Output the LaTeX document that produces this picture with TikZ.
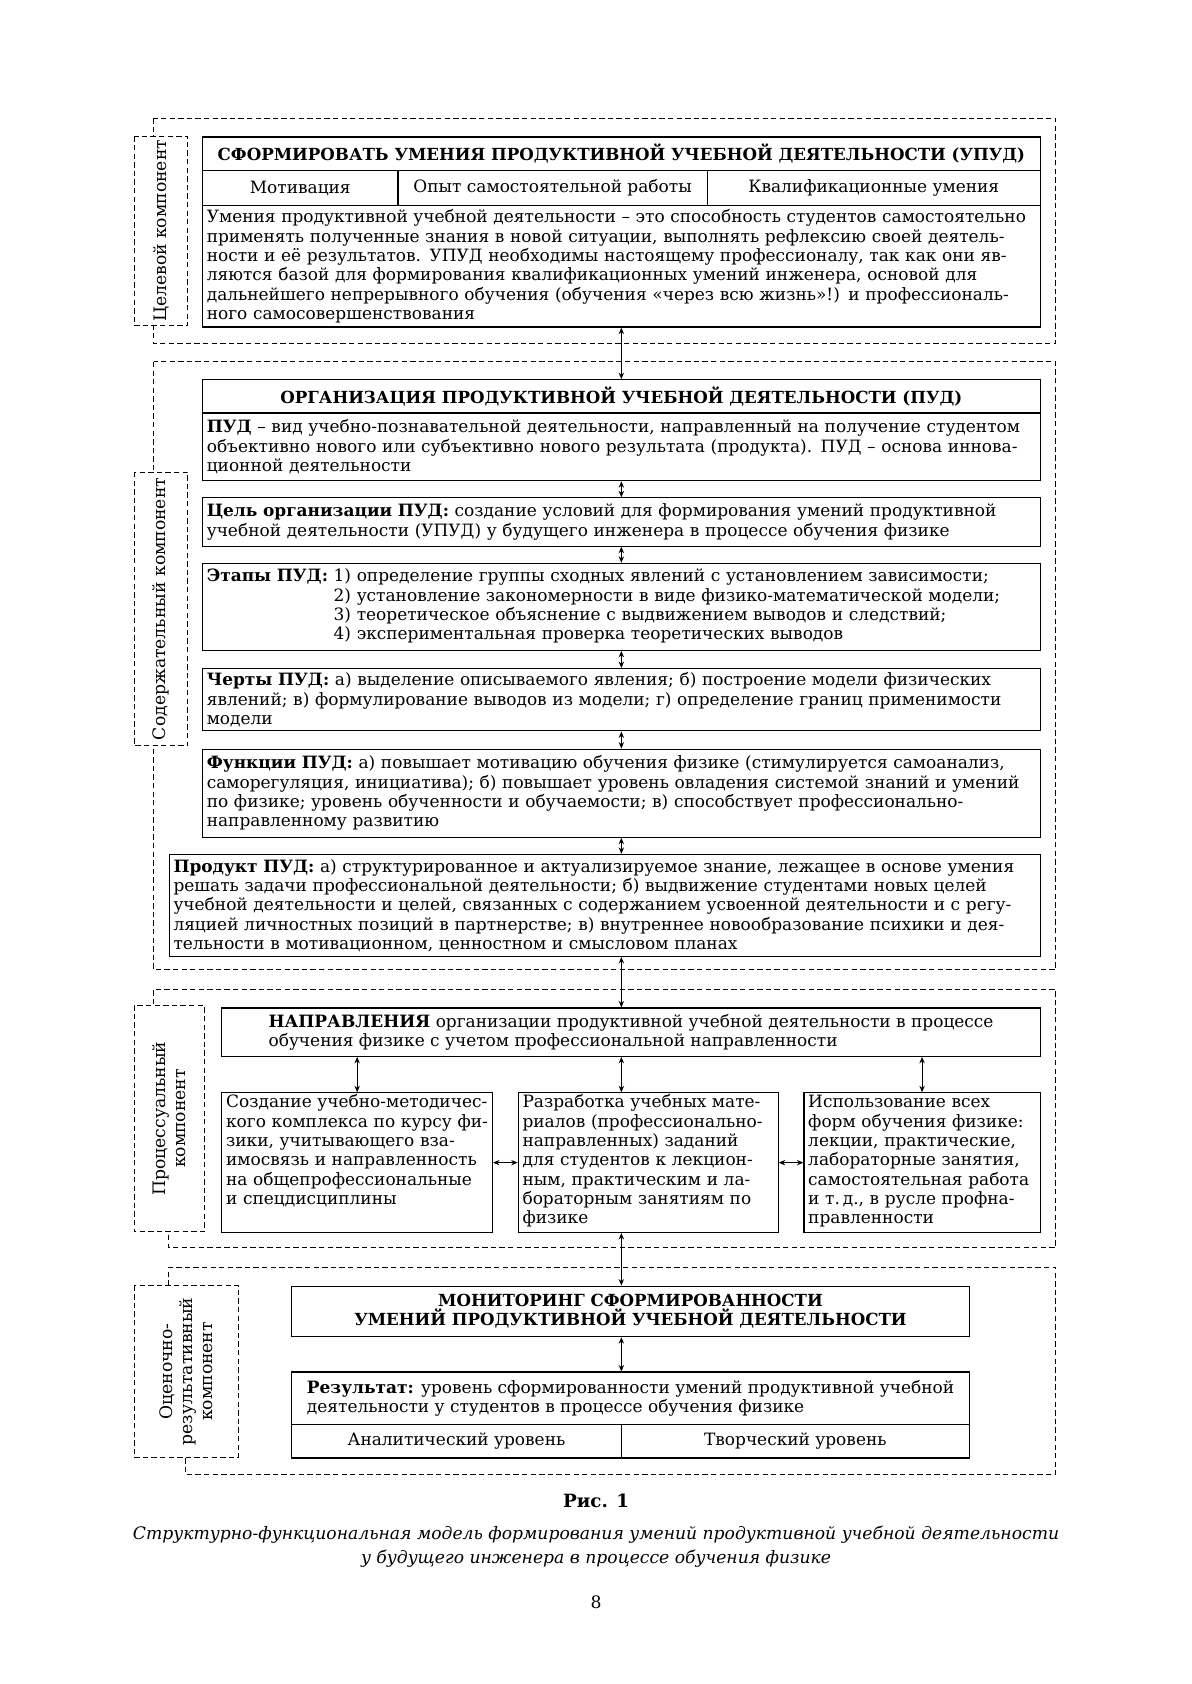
\documentclass[tikz,border=0pt]{standalone}
\usepackage{fontspec}
\setmainfont{DejaVu Serif}
\usetikzlibrary{arrows.meta, positioning, calc}

\newcommand{\bodyfont}{\fontsize{15.8}{18}\selectfont}
\newcommand{\headfont}{\fontsize{15.5}{18}\selectfont\bfseries}
\newcommand{\labfont}{\fontsize{16}{19}\selectfont}

\begin{document}
\begin{tikzpicture}[x=1pt, y=-1pt,
  box/.style   = {draw, line width=1.1pt, anchor=north west, inner xsep=4pt,
                  inner ysep=2pt, font=\bodyfont},
  head/.style  = {box, font=\headfont, align=center},
  cell/.style  = {box, align=center},
  txt/.style   = {box, align=left},
  lab/.style   = {draw, dash pattern=on 5pt off 3pt, line width=0.9pt,
                  fill=white, rotate=90, align=center, font=\labfont,
                  inner sep=0pt},
  frame/.style = {dash pattern=on 5pt off 3pt, line width=0.9pt},
  arr/.style   = {{Stealth[length=6pt,width=5pt]}-{Stealth[length=6pt,width=5pt]},
                  line width=0.9pt},
]
\useasboundingbox (0,0) rectangle (1109,1568);

\draw[frame] (143,110) rectangle (983,320);
\draw[frame] (143,337) rectangle (983,903);
\draw[frame] (157,1150) |- (983,1162) |- (143,921) -- (143,945);
\draw[frame] (173,1350) |- (983,1373) |- (157,1180) -- (157,1205);

% целевой компонент
\node[lab, minimum width=176pt, minimum height=50pt] (lab1) at (150,215)
     {Целевой компонент};
\node[head, minimum width=780pt, minimum height=31pt] (h1) at (188,127)
     {СФОРМИРОВАТЬ УМЕНИЯ ПРОДУКТИВНОЙ УЧЕБНОЙ ДЕЯТЕЛЬНОСТИ (УПУД)};
\node[cell, minimum width=182pt, minimum height=33pt] (r1a) at (188,158) {Мотивация};
\node[cell, minimum width=288pt, minimum height=33pt] (r1b) at (370,158)
     {Опыт самостоятельной работы};
\node[cell, minimum width=310pt, minimum height=33pt] (r1c) at (658,158)
     {Квалификационные умения};
\node[txt, text width=772pt, minimum height=113pt] (t1) at (188,191)
     {Умения продуктивной учебной деятельности – это способность студентов самостоятельно\\
      применять полученные знания в новой ситуации, выполнять рефлексию своей деятель-\\
      ности и её результатов. УПУД необходимы настоящему профессионалу, так как они яв-\\
      ляются базой для формирования квалификационных умений инженера, основой для\\
      дальнейшего непрерывного обучения (обучения «через всю жизнь»!) и профессиональ-\\
      ного самосовершенствования};

% содержательный компонент
\node[lab, minimum width=255pt, minimum height=50pt] (lab2) at (150,567)
     {Содержательный компонент};
\node[head, minimum width=780pt, minimum height=31pt] (h2) at (188,353)
     {ОРГАНИЗАЦИЯ ПРОДУКТИВНОЙ УЧЕБНОЙ ДЕЯТЕЛЬНОСТИ (ПУД)};
\node[txt, text width=772pt, minimum height=63pt] (t2) at (188,384)
     {\textbf{ПУД} – вид учебно-познавательной деятельности, направленный на получение студентом\\
      объективно нового или субъективно нового результата (продукта). ПУД – основа иннова-\\
      ционной деятельности};
\node[txt, text width=772pt, minimum height=45pt] (b2) at (188,463)
     {\textbf{Цель организации ПУД:} создание условий для формирования умений продуктивной\\
      учебной деятельности (УПУД) у будущего инженера в процессе обучения физике};
\node[txt, text width=772pt, minimum height=81pt] (b3) at (188,524)
     {\textbf{Этапы ПУД:} \begin{tabular}[t]{@{}l@{}}
      1) определение группы сходных явлений с установлением зависимости;\\
      2) установление закономерности в виде физико-математической модели;\\
      3) теоретическое объяснение с выдвижением выводов и следствий;\\
      4) экспериментальная проверка теоретических выводов\end{tabular}};
\node[txt, text width=772pt, minimum height=58pt] (b4) at (188,622)
     {\textbf{Черты ПУД:} а) выделение описываемого явления; б) построение модели физических\\
      явлений; в) формулирование выводов из модели; г) определение границ применимости\\
      модели};
\node[txt, text width=772pt, minimum height=82pt] (b5) at (188,697)
     {\textbf{Функции ПУД:} а) повышает мотивацию обучения физике (стимулируется самоанализ,\\
      саморегуляция, инициатива); б) повышает уровень овладения системой знаний и умений\\
      по физике; уровень обученности и обучаемости; в) способствует профессионально-\\
      направленному развитию};
\node[txt, text width=803pt, minimum height=95pt] (b6) at (157,795)
     {\textbf{Продукт ПУД:} а) структурированное и актуализируемое знание, лежащее в основе умения\\
      решать задачи профессиональной деятельности; б) выдвижение студентами новых целей\\
      учебной деятельности и целей, связанных с содержанием усвоенной деятельности и с регу-\\
      ляцией личностных позиций в партнерстве; в) внутреннее новообразование психики и дея-\\
      тельности в мотивационном, ценностном и смысловом планах};

% процессуальный компонент
\node[lab, minimum width=211pt, minimum height=65pt] (lab3) at (157.5,1041.5)
     {Процессуальный\\компонент};
\node[txt, minimum width=762pt, minimum height=45pt] (h3) at (206,938)
     {\textbf{НАПРАВЛЕНИЯ} организации продуктивной учебной деятельности в процессе\\
      обучения физике с учетом профессиональной направленности};
\node[txt, text width=244pt, text height=12pt, text depth=114pt] (p1) at (206,1017)
     {Создание учебно-методичес-\\кого комплекса по курсу фи-\\зики, учитывающего вза-\\
      имосвязь и направленность\\на общепрофессиональные\\и спецдисциплины};
\node[txt, text width=234pt, text height=12pt, text depth=114pt] (p2) at (482,1017)
     {Разработка учебных мате-\\риалов (профессионально-\\направленных) заданий\\
      для студентов к лекцион-\\ным, практическим и ла-\\бораторным занятиям по\\физике};
\node[txt, text width=212pt, text height=12pt, text depth=114pt] (p3) at (748,1017)
     {Использование всех\\форм обучения физике:\\лекции, практические,\\
      лабораторные занятия,\\самостоятельная работа\\и т.\,д., в русле профна-\\правленности};

% оценочно-результативный компонент
\node[lab, minimum width=160pt, minimum height=97pt] (lab4) at (173.5,1277)
     {Оценочно-\\результативный\\компонент};
\node[head, minimum width=631pt, minimum height=47pt] (m1) at (271,1197)
     {МОНИТОРИНГ СФОРМИРОВАННОСТИ\\УМЕНИЙ ПРОДУКТИВНОЙ УЧЕБНОЙ ДЕЯТЕЛЬНОСТИ};
\node[txt, minimum width=631pt, minimum height=49pt] (m2) at (271,1277)
     {\textbf{Результат:} уровень сформированности умений продуктивной учебной\\
      деятельности у студентов в процессе обучения физике};
\node[cell, minimum width=307pt, minimum height=31pt] (m3) at (271,1326)
     {Аналитический уровень};
\node[cell, minimum width=324pt, minimum height=31pt] (m4) at (578,1326)
     {Творческий уровень};

\draw[arr] (t1.south) -- (h2.north);
\draw[arr] (t2.south) -- (b2.north);
\draw[arr] (b2.south) -- (b3.north);
\draw[arr] (b3.south) -- (b4.north);
\draw[arr] (b4.south) -- (b5.north);
\draw[arr] (b5.south) -- (b5.south |- b6.north);
\draw[arr] (b6.south -| b5.south) -- (h3.north -| b5.south);
\draw[arr] (h3.south -| p1.north) -- (p1.north);
\draw[arr] (h3.south -| b5.south) -- (p2.north -| b5.south);
\draw[arr] (h3.south -| p3.north) -- (p3.north);
\draw[arr] (p1.east) -- (p2.west);
\draw[arr] (p2.east) -- (p3.west);
\draw[arr] (p2.south -| b5.south) -- (m1.north -| b5.south);
\draw[arr] (m1.south -| b5.south) -- (m2.north -| b5.south);

\node[font=\fontsize{17}{20}\selectfont\bfseries] (fig) at (555,1397) {Рис. 1};
\node[font=\fontsize{16}{23}\selectfont\itshape, align=center] (capt) at (555,1440)
     {Структурно-функциональная модель формирования умений продуктивной учебной деятельности\\
      у будущего инженера в процессе обучения физике};
\node[font=\fontsize{16}{18}\selectfont] (pnum) at (555,1492) {8};
\end{tikzpicture}
\end{document}
